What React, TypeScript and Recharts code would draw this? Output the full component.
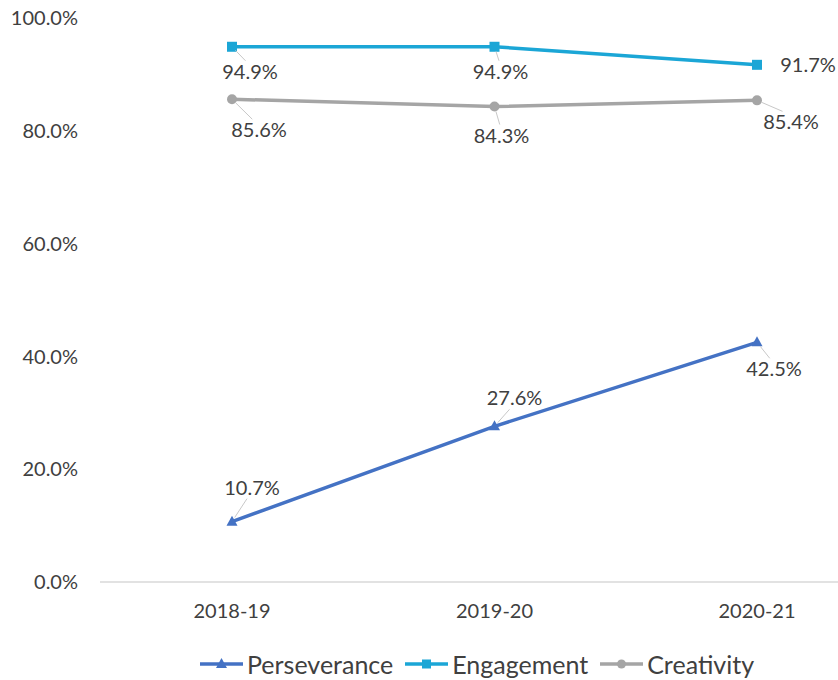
import React from "react";
import { LineChart, Line, XAxis, YAxis, Legend, LabelList } from "recharts";

const years = ["2018-19", "2019-20", "2020-21"];
const perseverance = [10.7, 27.6, 42.5];
const engagement = [94.9, 94.9, 91.7];
const creativity = [85.6, 84.3, 85.4];
const yTicks = [0, 20, 40, 60, 80, 100];

// where each data label sits relative to its point (dx, dy)
const perseveranceLabelPos = [[20, -34], [20, -28], [17, 27]];
const engagementLabelPos = [[18, 25], [6, 25], [51, 0]];
const creativityLabelPos = [[27, 31], [7, 29], [34, 22]];

const data = years.map((year, i) => ({
  year,
  perseverance: perseverance[i],
  engagement: engagement[i],
  creativity: creativity[i],
}));

const BLUE = "#4472C4";
const CYAN = "#1BA6D6";
const GREY = "#A5A5A5";
const TEXT = "#404040";

const fmt = (v: number) => v.toFixed(1) + "%";

function makeLabel(pos: number[][]) {
  return (props: any) => {
    const { x, y, value, index } = props;
    const [dx, dy] = pos[index];
    const lx = x + dx;
    const ly = y + dy;
    let leader = null;
    if (Math.abs(dy) > 15) {
      const ex = lx - dx * 0.25;
      const ey = ly - Math.sign(dy) * 11;
      const len = Math.hypot(ex - x, ey - y);
      const sx = x + ((ex - x) / len) * 5;
      const sy = y + ((ey - y) / len) * 5;
      leader = <line x1={sx} y1={sy} x2={ex} y2={ey} stroke="#C8C8C8" strokeWidth={1} />;
    }
    return (
      <g>
        {leader}
        <text x={lx} y={ly} dy="0.35em" textAnchor="middle" fill={TEXT} fontSize={20}>
          {fmt(value)}
        </text>
      </g>
    );
  };
}

const TriangleDot = (props: any) => {
  const { cx, cy, index } = props;
  return (
    <path
      key={"t" + index}
      d={`M${cx},${cy - 6} L${cx + 5.5},${cy + 4} L${cx - 5.5},${cy + 4} Z`}
      fill={BLUE}
    />
  );
};

const SquareDot = (props: any) => {
  const { cx, cy, index } = props;
  return <rect key={"s" + index} x={cx - 5} y={cy - 5} width={10} height={10} fill={CYAN} />;
};

const CircleDot = (props: any) => {
  const { cx, cy, index } = props;
  return <circle key={"c" + index} cx={cx} cy={cy} r={5} fill={GREY} />;
};

const legendItems = [
  { name: "Perseverance", color: BLUE, shape: "triangle" },
  { name: "Engagement", color: CYAN, shape: "square" },
  { name: "Creativity", color: GREY, shape: "circle" },
];

function LegendIcon({ color, shape }: { color: string; shape: string }) {
  return (
    <svg width={43} height={14} style={{ display: "block" }}>
      <line x1={0} y1={7} x2={43} y2={7} stroke={color} strokeWidth={3.5} />
      {shape === "triangle" && <path d="M21.5,1 L27,11 L16,11 Z" fill={color} />}
      {shape === "square" && <rect x={17} y={2.5} width={9} height={9} fill={color} />}
      {shape === "circle" && <circle cx={21.5} cy={7} r={4.5} fill={color} />}
    </svg>
  );
}

function CustomLegend() {
  return (
    <div
      style={{
        display: "flex",
        alignItems: "center",
        height: 40,
        paddingLeft: 200,
        paddingTop: 7,
        boxSizing: "border-box",
      }}
    >
      {legendItems.map((it) => (
        <div key={it.name} style={{ display: "flex", alignItems: "center", marginRight: 12 }}>
          <LegendIcon color={it.color} shape={it.shape} />
          <span style={{ marginLeft: 4, fontSize: 25, color: TEXT, lineHeight: "30px" }}>{it.name}</span>
        </div>
      ))}
    </div>
  );
}

export default function App() {
  return (
    <div style={{ position: "absolute", left: 0, top: 0, fontFamily: "Lato, sans-serif", background: "#fff" }}>
      <LineChart width={838} height={680} data={data} margin={{ top: 18, right: 0, left: 0, bottom: 0 }}>
        <XAxis
          dataKey="year"
          padding={{ left: 132, right: 81 }}
          axisLine={{ stroke: "#D9D9D9", strokeWidth: 1.5 }}
          tickLine={false}
          tickMargin={16}
          height={58}
          tick={{ fill: TEXT, fontSize: 20 }}
        />
        <YAxis
          domain={[0, 100]}
          ticks={yTicks}
          tickFormatter={fmt}
          axisLine={false}
          tickLine={false}
          tickMargin={16}
          width={100}
          tick={{ fill: TEXT, fontSize: 20 }}
        />
        <Legend verticalAlign="bottom" height={40} content={() => <CustomLegend />} />
        <Line
          dataKey="perseverance"
          stroke={BLUE}
          strokeWidth={3.5}
          dot={TriangleDot}
          activeDot={false}
          isAnimationActive={false}
        >
          <LabelList dataKey="perseverance" content={makeLabel(perseveranceLabelPos)} />
        </Line>
        <Line
          dataKey="engagement"
          stroke={CYAN}
          strokeWidth={3.5}
          dot={SquareDot}
          activeDot={false}
          isAnimationActive={false}
        >
          <LabelList dataKey="engagement" content={makeLabel(engagementLabelPos)} />
        </Line>
        <Line
          dataKey="creativity"
          stroke={GREY}
          strokeWidth={3.5}
          dot={CircleDot}
          activeDot={false}
          isAnimationActive={false}
        >
          <LabelList dataKey="creativity" content={makeLabel(creativityLabelPos)} />
        </Line>
      </LineChart>
    </div>
  );
}
